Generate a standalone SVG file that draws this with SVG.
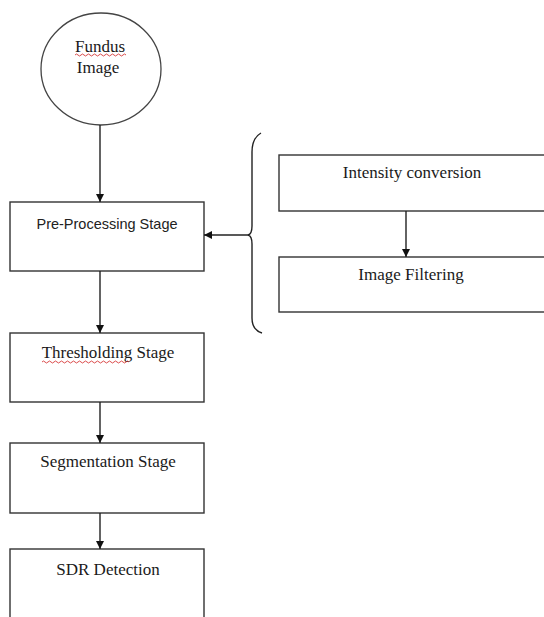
<svg xmlns="http://www.w3.org/2000/svg" width="544" height="617" viewBox="0 0 544 617">
<defs>
<style>
.box{fill:#fff;stroke:#333;stroke-width:1.4}
.ser{font-family:"Liberation Serif","Times New Roman",serif;font-size:17px;fill:#1a1a1a;text-anchor:middle}
.sans{font-family:"Liberation Sans",Arial,sans-serif;font-size:14.5px;fill:#222;text-anchor:middle}
.ln{fill:none;stroke:#222;stroke-width:1.4}
.sq{fill:none;stroke:#d02020;stroke-width:0.8}
</style>
<marker id="ah" viewBox="0 0 10 10" refX="10" refY="5" markerWidth="8" markerHeight="8" markerUnits="userSpaceOnUse" orient="auto">
<path d="M0,0 L10,5 L0,10 Z" fill="#111"/>
</marker>
</defs>
<rect width="544" height="617" fill="#fff"/>
<g id="fundus">
<ellipse cx="101" cy="69" rx="60" ry="56" fill="#fff" stroke="#444" stroke-width="1.3"/>
<text class="ser" x="100" y="52">Fundus</text>
<path class="sq" d="M75,55 q1.5,-2 3,0 t3,0 t3,0 t3,0 t3,0 t3,0 t3,0 t3,0 t3,0 t3,0 t3,0 t3,0 t3,0 t3,0 t3,0 t3,0 t3,0"/>
<text class="ser" x="98" y="73">Image</text>
</g>
<g id="preprocessing">
<rect class="box" x="10" y="202" width="194" height="69"/>
<text class="sans" x="107" y="229">Pre-Processing Stage</text>
</g>
<g id="brace">
<path class="ln" d="M261,133 Q252,138 252,152 L252,226 Q252,234 248,235 Q252,236 252,244 L252,318 Q252,330 262,333"/>
</g>
<g id="intensity">
<rect class="box" x="279" y="155" width="270" height="56"/>
<text class="ser" x="412" y="178">Intensity conversion</text>
</g>
<g id="filtering">
<rect class="box" x="279" y="257" width="270" height="55"/>
<text class="ser" x="411" y="280">Image Filtering</text>
</g>
<g id="thresholding">
<rect class="box" x="10" y="333" width="194" height="69"/>
<text class="ser" x="108" y="358">Thresholding Stage</text>
<path class="sq" d="M42,362 q1.5,-2 3,0 t3,0 t3,0 t3,0 t3,0 t3,0 t3,0 t3,0 t3,0 t3,0 t3,0 t3,0 t3,0 t3,0 t3,0 t3,0 t3,0 t3,0 t3,0 t3,0 t3,0 t3,0 t3,0 t3,0 t3,0 t3,0 t3,0 t3,0 t3,0"/>
</g>
<g id="segmentation">
<rect class="box" x="10" y="443" width="194" height="70"/>
<text class="ser" x="108" y="467">Segmentation Stage</text>
</g>
<g id="sdr">
<rect class="box" x="10" y="549" width="194" height="80"/>
<text class="ser" x="108" y="575">SDR Detection</text>
</g>
<g id="connectors">
<line class="ln" x1="100" y1="125" x2="100" y2="202" marker-end="url(#ah)"/>
<line class="ln" x1="248" y1="235" x2="204" y2="235" marker-end="url(#ah)"/>
<line class="ln" x1="406" y1="211" x2="406" y2="257" marker-end="url(#ah)"/>
<line class="ln" x1="100" y1="271" x2="100" y2="333" marker-end="url(#ah)"/>
<line class="ln" x1="100" y1="402" x2="100" y2="443" marker-end="url(#ah)"/>
<line class="ln" x1="100" y1="513" x2="100" y2="549" marker-end="url(#ah)"/>
</g>
</svg>
